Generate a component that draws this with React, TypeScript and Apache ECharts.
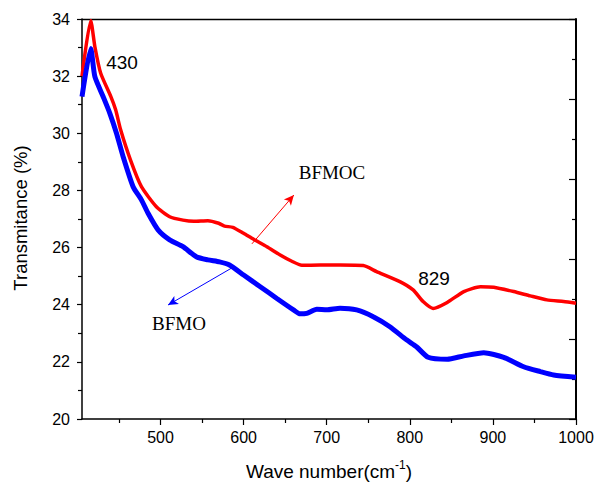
import React, { useEffect, useRef } from "react";
import * as echarts from "echarts";

// Wave numbers (cm-1) and transmittance (%)
const bfmocWave = [405.5, 416, 421, 428, 440, 446, 452, 464, 477, 495, 511, 527, 540, 557, 570, 577, 587, 600, 612, 628, 644, 658, 670, 692, 716, 744, 760, 788, 804, 816, 828, 845, 865, 885, 901, 925, 945, 965, 985, 1000];
const bfmocValue = [32.0, 33.95, 33.03, 32.1, 31.3, 30.82, 30.12, 29.05, 28.13, 27.43, 27.08, 26.96, 26.92, 26.94, 26.85, 26.75, 26.71, 26.5, 26.29, 26.03, 25.74, 25.52, 25.38, 25.39, 25.39, 25.37, 25.16, 24.81, 24.52, 24.11, 23.87, 24.08, 24.46, 24.63, 24.61, 24.46, 24.31, 24.17, 24.11, 24.05];

const bfmoWave = [405.5, 416, 421, 431, 439, 447, 455, 467, 477, 485, 497, 511, 527, 543, 557, 571, 583, 600, 620, 640, 660, 668, 676, 688, 700, 716, 736, 756, 776, 796, 808, 822, 845, 865, 889, 913, 937, 957, 973, 1000];
const bfmoValue = [31.28, 32.97, 31.98, 31.28, 30.7, 30.0, 29.18, 28.13, 27.67, 27.2, 26.62, 26.27, 26.03, 25.68, 25.57, 25.5, 25.39, 25.04, 24.63, 24.22, 23.82, 23.68, 23.7, 23.84, 23.82, 23.88, 23.82, 23.58, 23.23, 22.77, 22.53, 22.16, 22.09, 22.21, 22.32, 22.16, 21.83, 21.66, 21.54, 21.46];

const xMajorTicks = [500, 600, 700, 800, 900, 1000];
const xMinorTicks = [450, 550, 650, 750, 850, 950];
const xMin = 405.5;
const xMax = 1000;
const yMin = 20;
const yMax = 34;
const yInterval = 2;

// arrow annotations (data coordinates)
const bfmocArrow = [[610, 26.13], [660.5, 27.84]];
const bfmoArrow = [[586, 25.29], [509, 23.99]];

const pair = (xs: number[], ys: number[]) => xs.map((x, i) => [x, ys[i]]);

export default function App() {
  const ref = useRef<HTMLDivElement>(null);
  useEffect(() => {
    if (!ref.current) return;
    const chart = echarts.init(ref.current, undefined, { renderer: "svg" });
    const axisFont = "Liberation Sans, Arial, sans-serif";
    const black = "#000";
    chart.setOption({
      animation: false,
      backgroundColor: "#fff",
      grid: { left: 82, right: 21, top: 19, bottom: 65, containLabel: false },
      xAxis: [
        {
          type: "value",
          min: xMin,
          max: xMax,
          position: "bottom",
          splitLine: { show: false },
          axisLine: { show: true, onZero: false, lineStyle: { color: black, width: 1.5 } },
          axisTick: { show: true, inside: false, length: 6, customValues: xMajorTicks, lineStyle: { color: black, width: 1.2 } },
          axisLabel: { show: true, customValues: xMajorTicks, margin: 10, fontSize: 16, color: black, fontFamily: axisFont, formatter: (v: number) => String(v) },
        },
        {
          type: "value",
          min: xMin,
          max: xMax,
          position: "bottom",
          splitLine: { show: false },
          axisLine: { show: false, onZero: false },
          axisTick: { show: true, inside: false, length: 4, customValues: xMinorTicks, lineStyle: { color: black, width: 1.2 } },
          axisLabel: { show: false },
        },
        {
          type: "value",
          min: xMin,
          max: xMax,
          position: "top",
          splitLine: { show: false },
          axisLine: { show: true, onZero: false, lineStyle: { color: black, width: 1.3 } },
          axisTick: { show: false },
          axisLabel: { show: false },
        },
      ],
      yAxis: [
        {
          type: "value",
          min: yMin,
          max: yMax,
          interval: yInterval,
          position: "left",
          splitLine: { show: false },
          axisLine: { show: true, onZero: false, lineStyle: { color: black, width: 1.5 } },
          axisTick: { show: true, inside: false, length: 5, lineStyle: { color: black, width: 1.2 } },
          minorTick: { show: true, splitNumber: 2, length: 4, lineStyle: { color: black, width: 1.2 } },
          axisLabel: { show: true, margin: 12, fontSize: 16, color: black, fontFamily: axisFont },
        },
        {
          type: "value",
          min: 0,
          max: 10,
          interval: 2,
          position: "right",
          splitLine: { show: false },
          axisLine: { show: true, onZero: false, lineStyle: { color: black, width: 2 } },
          axisTick: { show: true, inside: true, length: 7, lineStyle: { color: black, width: 1.2 } },
          minorTick: { show: true, splitNumber: 2, length: 4, lineStyle: { color: black, width: 1.2 } },
          axisLabel: { show: false },
        },
      ],
      series: [
        {
          name: "BFMOC",
          type: "line",
          xAxisIndex: 0,
          yAxisIndex: 0,
          data: pair(bfmocWave, bfmocValue),
          showSymbol: false,
          smooth: 0.2,
          lineStyle: { color: "#ff0000", width: 3.5 },
          itemStyle: { color: "#ff0000" },
          markLine: {
            silent: true,
            symbol: ["none", "arrow"],
            symbolSize: [7, 10],
            label: { show: false },
            lineStyle: { color: "#ff0000", width: 1, type: "solid" },
            data: [[{ coord: bfmocArrow[0] }, { coord: bfmocArrow[1] }]],
          },
        },
        {
          name: "BFMO",
          type: "line",
          xAxisIndex: 0,
          yAxisIndex: 0,
          data: pair(bfmoWave, bfmoValue),
          showSymbol: false,
          smooth: 0.2,
          lineStyle: { color: "#0000ff", width: 5 },
          itemStyle: { color: "#0000ff" },
          markLine: {
            silent: true,
            symbol: ["none", "arrow"],
            symbolSize: [7, 10],
            label: { show: false },
            lineStyle: { color: "#0000ff", width: 1, type: "solid" },
            data: [[{ coord: bfmoArrow[0] }, { coord: bfmoArrow[1] }]],
          },
        },
      ],
      graphic: [
        {
          type: "text",
          x: 20,
          y: 218,
          rotation: Math.PI / 2,
          style: { text: "Transmitance (%)", fontSize: 18.5, fontFamily: axisFont, fill: black, align: "center", verticalAlign: "middle" },
        },
        {
          type: "text",
          x: 329,
          y: 470,
          style: {
            text: "{m|Wave number(cm}{s|-1}{m|)}",
            align: "center",
            verticalAlign: "middle",
            fill: black,
            rich: {
              m: { fontSize: 19, fontFamily: axisFont, fill: black, verticalAlign: "bottom", lineHeight: 22 },
              s: { fontSize: 12, fontFamily: axisFont, fill: black, verticalAlign: "top", lineHeight: 22 },
            },
          },
        },
        {
          type: "text",
          x: 122,
          y: 62,
          style: { text: "430", fontSize: 19, fontFamily: axisFont, fill: black, align: "center", verticalAlign: "middle" },
        },
        {
          type: "text",
          x: 434,
          y: 278,
          style: { text: "829", fontSize: 19, fontFamily: axisFont, fill: black, align: "center", verticalAlign: "middle" },
        },
        {
          type: "text",
          x: 332,
          y: 172,
          style: { text: "BFMOC", fontSize: 19, fontFamily: "Liberation Serif, Times New Roman, serif", fill: black, align: "center", verticalAlign: "middle" },
        },
        {
          type: "text",
          x: 179,
          y: 323,
          style: { text: "BFMO", fontSize: 19, fontFamily: "Liberation Serif, Times New Roman, serif", fill: black, align: "center", verticalAlign: "middle" },
        },
      ],
    });
    return () => chart.dispose();
  }, []);
  return <div ref={ref} style={{ position: "fixed", left: 0, top: 0, width: 597, height: 484 }} />;
}
